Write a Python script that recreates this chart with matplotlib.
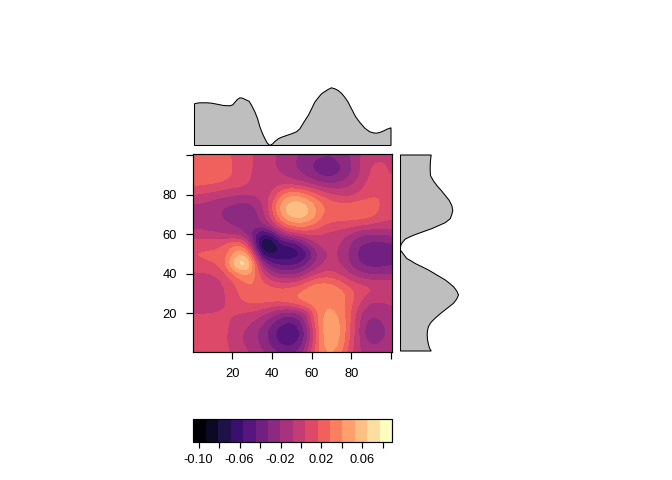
import numpy as np
import matplotlib
matplotlib.use("Agg")
import matplotlib.pyplot as plt
from matplotlib.colors import BoundaryNorm

plt.rcParams['font.family'] = ['Liberation Sans', 'DejaVu Sans']

W, H = 672, 480
# Surface height on a 5-unit grid (rows y=100..0, columns x=0..100),
# given as position on the 16-step colour scale (0 = darkest step centre).
surface_steps = [
 [10.2,10.2,10.2,10.0,9.4,9.0,8.55,8.2,7.7,7.3,6.8,6.4,6.0,5.7,5.6,6.1,6.6,7.6,8.0,8.0,8.2],
 [10.3,10.4,10.4,10.2,9.5,9.1,8.6,8.1,7.6,7.2,6.7,6.1,5.4,4.9,4.9,5.4,6.4,7.8,8.5,8.9,8.2],
 [10.3,10.4,10.4,10.1,9.5,9.1,8.4,8.0,7.9,7.6,7.0,6.6,5.9,5.2,5.0,5.6,6.5,7.6,8.7,9.0,8.3],
 [9.8,9.6,9.5,9.3,9.1,8.8,8.4,8.1,8.1,8.3,8.3,8.0,7.6,7.0,6.7,7.0,7.5,8.3,9.0,9.3,8.9],
 [8.6,8.4,8.2,7.9,7.6,7.6,7.7,7.9,8.4,10.6,11.6,11.3,10.3,9.3,8.7,8.2,8.2,8.7,9.3,9.5,9.3],
 [7.4,7.3,7.1,6.6,6.5,6.1,6.3,7.3,9.5,12.2,13.2,13.2,12.0,10.8,10.0,9.8,9.9,10.2,10.1,9.4,9.0],
 [7.0,6.9,6.7,6.4,6.0,5.8,5.9,6.8,9.0,12.0,13.4,13.4,12.6,10.6,10.2,10.2,10.2,10.2,10.0,9.3,8.9],
 [7.2,7.2,7.1,6.8,6.4,6.2,6.0,6.5,8.2,10.0,11.2,11.4,10.8,9.9,9.3,9.2,9.1,8.9,8.6,8.3,8.2],
 [7.9,7.7,7.6,7.4,7.2,6.7,5.5,3.0,3.8,7.0,8.0,8.6,8.7,8.5,8.1,8.0,7.3,6.6,6.5,6.5,6.8],
 [9.2,9.3,9.4,9.5,10.3,10.5,7.0,0.9,1.0,3.4,3.3,5.0,7.0,7.9,7.8,7.5,6.4,5.4,5.1,5.1,5.3],
 [9.6,9.6,9.6,9.6,11.3,13.0,10.5,2.8,2.2,2.8,2.8,3.0,5.0,7.2,7.6,7.4,6.0,5.1,4.9,4.9,5.1],
 [9.2,9.4,9.6,9.8,12.8,15.2,13.0,7.0,4.6,4.2,4.0,4.8,6.2,7.5,7.9,7.5,6.3,5.3,5.1,5.1,5.3],
 [8.3,8.3,8.4,9.0,10.2,11.6,11.5,9.0,7.0,6.3,6.2,6.8,7.8,8.7,8.8,8.2,7.4,6.7,6.2,6.2,6.4],
 [8.0,8.0,8.1,8.3,9.2,10.1,10.6,9.9,9.2,8.8,8.9,9.3,10.7,10.8,10.7,9.9,9.0,8.6,8.4,8.3,8.3],
 [8.0,8.0,8.1,8.3,8.9,9.9,10.3,10.3,10.3,10.2,10.5,11.0,11.3,11.5,11.5,11.0,10.0,9.0,8.6,8.4,8.3],
 [8.1,8.1,8.2,8.3,8.8,9.3,9.7,9.6,9.5,9.6,9.9,10.5,11.0,11.3,11.4,11.0,9.8,8.3,7.3,7.3,7.6],
 [8.4,8.4,8.4,8.6,8.6,8.5,8.2,7.9,7.0,6.0,5.8,6.3,9.0,11.4,11.8,11.2,9.5,7.4,6.7,6.8,7.2],
 [9.1,9.2,9.2,9.1,8.3,8.0,7.5,6.7,5.6,4.6,4.2,5.3,8.5,11.8,12.4,11.5,9.4,7.0,6.0,6.4,7.0],
 [9.1,9.2,9.2,9.1,8.0,7.6,6.9,6.2,4.9,3.6,3.2,4.4,7.5,11.5,12.5,11.5,9.3,7.0,5.5,6.0,7.0],
 [9.2,9.2,9.2,9.1,8.0,7.6,7.0,6.3,5.2,4.2,4.0,5.0,8.0,11.5,12.3,11.4,9.0,7.2,6.3,6.6,7.0],
 [9.2,9.2,9.2,9.1,8.4,8.0,7.4,6.8,6.1,5.5,5.3,6.2,9.0,11.2,11.6,10.7,8.5,7.4,7.0,7.1,7.3],
]
scale_low = -0.1049
scale_high = 0.0888
n_steps = 16

# Top margin curve
top_x = [1,2.2,3.8,7.2,9.7,13.1,15.6,18.9,20.3,21.4,22.6,23.9,25.3,26.5,28.5,29.8,31.5,32.8,34,35.3,36.5,37.7,39,40.4,41.5,43.2,44.9,47.4,49.9,52.4,54.1,56.1,58.3,60,61.6,63.3,65,66.7,68.3,70,71.7,73.4,75,76.7,78.4,80.1,82.1,84.2,86.8,89.3,91,92.6,94.3,96,98,100]
top_h = [41.7,42.3,42.7,42.7,42.3,41,40,39.7,40.7,43.3,46,47.7,47.3,46,44.3,40,33.3,26.7,18.3,11.7,6.7,2.3,0,1.7,4,6.7,8.3,10,11.7,13.7,16.7,23.3,30,36.7,43.3,47.7,51.7,54,56,57.7,56.7,55,52.3,48.3,43.3,36.7,29,23.3,17.3,13.7,12.7,12.3,13,14.3,16.3,17.7]
# Right margin curve
right_y = [100,97.2,94.6,92.1,89.6,87.1,84.6,82.1,79.6,77.1,74.5,72,69.9,67.8,65.8,64.3,62.8,61.3,59.8,58.6,57.5,55.9,54.4,53.1,51.9,49.9,47.7,46.6,45.2,43.6,41.9,39.4,36.9,35.2,33.5,31.3,29.3,27.3,25.1,23.5,21.8,19.8,17.6,15.6,13.4,11.4,9.2,6.7,4.2,2.5,1]
right_h = [30.7,30,29.7,29.7,30,32.7,36.3,40.7,44.7,48.7,51.3,52.3,51.3,49.7,44.7,38,31.3,23,14.7,9,4.7,2,0.3,0,0,3,6.3,10.3,14.7,21.3,28,36.3,44.7,49,53,56.3,58,56.3,53,49,44.7,39.7,34.7,30.7,28,27,26.7,27,28,29,30.7]

main_ticks = [20, 40, 60, 80, 100]
main_labels = ['20', '40', '60', '80', '']
bar_ticks = [-0.10, -0.08, -0.06, -0.04, -0.02, 0.0, 0.02, 0.04, 0.06, 0.08]
bar_labels = ['-0.10', '', '-0.06', '', '-0.02', '', '0.02', '', '0.06', '']

GRAY = '#BEBEBE'
FS = 9.3
LW = 0.85


def axes_px(fig, left, top, right, bottom):
    return fig.add_axes([left / W, 1 - bottom / H, (right - left) / W, (bottom - top) / H])


fig = plt.figure(figsize=(W / 100, H / 100), dpi=100)
step = (scale_high - scale_low) / n_steps
levels = np.linspace(scale_low, scale_high, n_steps + 1)
cmap = plt.get_cmap('magma', n_steps)
norm = BoundaryNorm(levels, n_steps)
Z = scale_low + (np.array(surface_steps) + 0.5) * step

ax = axes_px(fig, 193.5, 154, 392, 352)
im = ax.imshow(Z, extent=(-2.5, 102.5, -2.5, 102.5), origin='upper', aspect='auto',
               cmap=cmap, norm=norm, interpolation='bicubic', interpolation_stage='data')
ax.set_xlim(0.5, 100.5)
ax.set_ylim(0.5, 100.5)
ax.set_xticks(main_ticks, main_labels)
ax.set_yticks(main_ticks, main_labels)
ax.tick_params(length=5.2, width=LW, labelsize=FS, pad=6.5)
for s in ax.spines.values():
    s.set_linewidth(LW)

top = axes_px(fig, 193.5, 87, 392, 145.5)
top.fill(top_x + [top_x[-1], top_x[0]], top_h + [0, 0], facecolor=GRAY, edgecolor='black', lw=0.75, clip_on=False)
top.set_xlim(0.5, 100.5)
top.set_ylim(0, 58.5)
top.axis('off')

right = axes_px(fig, 400.5, 154, 459, 352)
right.fill(right_h + [0, 0], right_y + [right_y[-1], right_y[0]], facecolor=GRAY, edgecolor='black', lw=0.75, clip_on=False)
right.set_ylim(0.5, 100.5)
right.set_xlim(0, 58.5)
right.axis('off')

cax = axes_px(fig, 193.5, 418.5, 392, 441.5)
cb = fig.colorbar(im, cax=cax, orientation='horizontal', spacing='proportional', drawedges=False)
cb.set_ticks(bar_ticks, labels=bar_labels)
cb.minorticks_off()
cax.tick_params(length=4.2, width=LW, labelsize=FS, pad=5)
cb.outline.set_linewidth(LW)

fig.savefig('out.png', dpi=100)
